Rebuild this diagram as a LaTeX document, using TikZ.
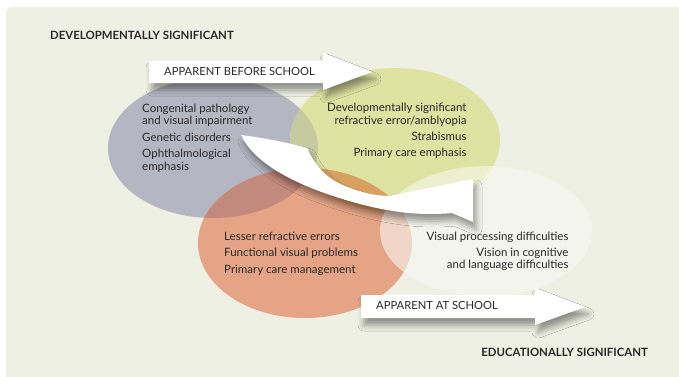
\documentclass[tikz,border=0pt]{standalone}
\usepackage{fontspec}
\setmainfont{Lato}
\usetikzlibrary{shadows.blur}

\definecolor{paper}{HTML}{EEF0E3}
\definecolor{greyset}{HTML}{B4B6C2}
\definecolor{greenset}{HTML}{DEE3A1}
\definecolor{greygreen}{HTML}{C6CA9F}
\definecolor{orangeset}{HTML}{E4A485}
\definecolor{greyorange}{HTML}{C4897D}
\definecolor{greenorange}{HTML}{D8A061}
\definecolor{paleset}{HTML}{F7F8F2}
\definecolor{ink}{HTML}{2A2928}

\tikzset{
  lbl/.style={font=\fontsize{11.5}{13}\selectfont, inner sep=0pt, text=ink},
  caplbl/.style={font=\fontsize{11.2}{13}\selectfont, inner sep=0pt, text=ink},
  headlbl/.style={font=\bfseries\fontsize{11.4}{13}\selectfont, inner sep=0pt, text=ink},
  bigarrow/.style={fill=white, blur shadow={shadow xshift=3pt, shadow yshift=-7pt,
      shadow blur radius=6pt, shadow opacity=40}},
}

\begin{document}
\begin{tikzpicture}[x=1pt, y=-1pt]
  % canvas
  \fill[white] (0,0) rectangle (679,376);
  \useasboundingbox (0,0) rectangle (679,376);
  \fill[paper, rounded corners=6pt] (6,7) rectangle (700,400);

  % the four overlapping sets
  \def\greyE{(213,148) ellipse [x radius=105, y radius=70]}
  \def\greenE{(395,140) ellipse [x radius=105, y radius=72]}
  \def\orangeE{(305,243) ellipse [x radius=107, y radius=75]}
  \def\paleE{(486,231) ellipse [x radius=106, y radius=65]}

  \fill[greyset] \greyE;
  \fill[greenset] \greenE;
  \begin{scope}
    \clip \greyE;
    \fill[greygreen] \greenE;
  \end{scope}
  \fill[orangeset] \orangeE;
  \begin{scope}
    \clip \orangeE;
    \fill[greyorange] \greyE;
    \fill[greenorange] \greenE;
  \end{scope}
  \fill[paleset, fill opacity=0.6] \paleE;

  % straight arrows
  \path[bigarrow] (149,61) -- (323,61) -- (323,53) -- (372,72) -- (323,90)
    -- (323,83) -- (149,83) -- cycle;
  \path[bigarrow] (361,295) -- (535,295) -- (535,288) -- (585,307) -- (535,325)
    -- (535,318) -- (361,318) -- cycle;

  % curved ribbon arrow: broad tail, narrow twisted waist, flared head
  \path[bigarrow] (241,135) .. controls (265,138) and (290,143) .. (307,148)
    .. controls (315,165) and (325,178) .. (345,186)
    .. controls (360,192) and (375,196) .. (390,196)
    -- (473,179) -- (473,222) -- (452,213)
    .. controls (420,216) and (390,212) .. (360,204)
    .. controls (300,188) and (255,165) .. (241,135) -- cycle;

  % headings
  \node[headlbl, anchor=base west] (devsig) at (50,39.5) {DEVELOPMENTALLY SIGNIFICANT};
  \node[headlbl, anchor=base east] (edusig) at (648,356.7) {EDUCATIONALLY SIGNIFICANT};
  \node[caplbl, anchor=base west] (before) at (164,75.5) {APPARENT BEFORE SCHOOL};
  \node[caplbl, anchor=base west] (atschool) at (376,309.5) {APPARENT AT SCHOOL};

  % grey set
  \node[lbl, anchor=base west] (g1) at (142,112.7) {Congenital pathology};
  \node[lbl, anchor=base west] (g2) at (142,124) {and visual impairment};
  \node[lbl, anchor=base west] (g3) at (142,141.7) {Genetic disorders};
  \node[lbl, anchor=base west] (g4) at (142,157.5) {Ophthalmological};
  \node[lbl, anchor=base west] (g5) at (142,170.7) {emphasis};

  % green set
  \node[lbl, anchor=base east] (v1) at (466.7,111) {Developmentally significant};
  \node[lbl, anchor=base east] (v2) at (466.7,124) {refractive error/amblyopia};
  \node[lbl, anchor=base east] (v3) at (466.7,140.7) {Strabismus};
  \node[lbl, anchor=base east] (v4) at (466.7,156.7) {Primary care emphasis};

  % orange set
  \node[lbl, anchor=base west] (o1) at (224,240) {Lesser refractive errors};
  \node[lbl, anchor=base west] (o2) at (224,256.7) {Functional visual problems};
  \node[lbl, anchor=base west] (o3) at (224,273) {Primary care management};

  % pale set
  \node[lbl, anchor=base east] (p1) at (568.7,240) {Visual processing difficulties};
  \node[lbl, anchor=base east] (p2) at (568.7,256.7) {Vision in cognitive};
  \node[lbl, anchor=base east] (p3) at (568.7,268.7) {and language difficulties};
\end{tikzpicture}
\end{document}
